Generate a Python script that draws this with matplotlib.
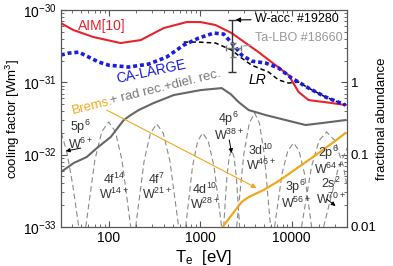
import numpy as np
import matplotlib
matplotlib.use('Agg')
from matplotlib import pyplot as plt

plt.rcParams['font.family'] = ['Liberation Sans', 'DejaVu Sans']
plt.rcParams['mathtext.fontset'] = 'custom'
plt.rcParams['mathtext.rm'] = 'Liberation Sans'
plt.rcParams['mathtext.it'] = 'Liberation Sans:italic'
plt.rcParams['mathtext.default'] = 'regular'

# cooling factor curves [W m^3] vs T_e [eV]
T_aim = [30, 41, 68, 135, 224, 399, 711, 1011, 1476, 2209, 4354, 6683, 9268, 11940, 15350, 27370, 38900]
L_aim = [6.6e-31, 5.3e-31, 4.24e-31, 3.5e-31, 3.85e-31, 5.64e-31, 6.83e-31, 6.83e-31, 6.21e-31,
         4.81e-31, 2.62e-31, 1.73e-31, 1.26e-31, 7.35e-32, 5.69e-32, 5.18e-32, 4.86e-32]

T_ca = [30, 36.6, 47, 60.4, 77.8, 100, 165, 273, 430, 661, 963, 1406, 1808, 2323, 2843, 3655,
        5200, 7211, 10000, 15350, 23550, 38900]
L_ca = [2.39e-31, 2.54e-31, 2.62e-31, 2.24e-31, 1.91e-31, 1.73e-31, 1.63e-31, 1.79e-31, 2.24e-31,
        3.28e-31, 4.1e-31, 4.81e-31, 4.66e-31, 3.28e-31, 2.39e-31, 1.97e-31, 1.85e-31, 1.58e-31,
        1.15e-31, 8.33e-32, 6.27e-32, 4.86e-32]

T_lr = [661, 963, 1476, 2209, 2843, 3655, 5600, 7211, 9268, 11940, 15350, 23550, 38900]
L_lr = [3.61e-31, 3.61e-31, 3.5e-31, 2.8e-31, 2.17e-31, 1.73e-31, 1.39e-31, 1.08e-31, 9.78e-32,
        1.01e-31, 8.33e-32, 6.27e-32, 4.86e-32]

T_rec = [30, 41.4, 57.5, 74, 105, 146, 174, 213, 310, 513, 1011, 1718, 2155, 2634, 3390, 5200,
         8600, 14220, 21280, 38900]
L_rec = [5.74e-33, 7.66e-33, 9.27e-33, 1.23e-32, 1.75e-32, 3.01e-32, 3.53e-32, 4.14e-32, 5.18e-32,
         6.67e-32, 7.82e-32, 8.33e-32, 6.89e-32, 5.34e-32, 4.14e-32, 3.53e-32, 3.01e-32, 2.57e-32,
         2.73e-32, 3.01e-32]

T_brems = [1762, 2209, 2843, 3390, 4943, 7211, 11940, 19740, 28780, 38900]
L_brems = [1e-33, 1.46e-33, 2.21e-33, 2.59e-33, 3.24e-33, 4.31e-33, 6.73e-33, 1.05e-32, 1.49e-32, 1.99e-32]

# experimental points
T_wacc, L_wacc, L_wacc_lo, L_wacc_hi = 2209, 3.18e-31, 1.39e-31, 7.27e-31
T_ta, T_ta_lo, T_ta_hi = 2280, 1901, 2775
L_ta, L_ta_lo, L_ta_hi = 2.98e-31, 2.24e-31, 3.5e-31

# fractional abundances of the ion stages
abund = [
    ('5p$^6$\nW$^{6+}$',    [22.1, 27.7, 34.8, 40.4, 47.0],
                            [0.415, 0.297, 0.109, 0.0381, 0.01]),
    ('4f$^{14}$\nW$^{14+}$', [56.1, 70.6, 84.2, 100, 118, 139.4, 174],
                            [0.01, 0.0849, 0.2095, 0.283, 0.2095, 0.0849, 0.01]),
    ('4f$^7$\nW$^{21+}$',    [197.2, 243.8, 285.7, 334.9, 395.4, 466.9, 582],
                            [0.01, 0.0815, 0.198, 0.266, 0.198, 0.0815, 0.01]),
    ('4d$^{10}$\nW$^{28+}$', [694.5, 824.6, 937.6, 1065, 1229, 1419, 1718],
                            [0.01, 0.0681, 0.1525, 0.1995, 0.1525, 0.0681, 0.01]),
    ('4p$^6$\nW$^{38+}$',    [1807, 1959, 2080, 2208, 2345, 2492, 2702],
                            [0.01, 0.0481, 0.0933, 0.116, 0.0933, 0.0481, 0.01]),
    ('3d$^{10}$\nW$^{46+}$', [2506, 3004, 3443, 3945, 4450, 5020, 5893],
                            [0.01, 0.1023, 0.2716, 0.3776, 0.2716, 0.1023, 0.01]),
    ('3p$^6$\nW$^{56+}$',    [6516, 7886, 9114, 10520, 12050, 13800, 16560],
                            [0.01, 0.0555, 0.114, 0.145, 0.114, 0.0555, 0.01]),
    ('2p$^6$\nW$^{64+}$',    [12850, 16560, 20000, 24150, 29800, 36830, 48830],
                            [0.01, 0.0693, 0.1567, 0.206, 0.1567, 0.0693, 0.01]),
    ('2s$^2$\nW$^{70+}$',    [22390, 32430, 42940, 56750],
                            [0.01, 0.0653, 0.1438, 0.187]),
]
# label positions (T, L) for the ion stages
lab_T = [49.4, 113.5, 335, 1120, 2047, 4580, 11070, 25350, 27000]
lab_L = [1.87e-32, 3.56e-33, 3.56e-33, 2.59e-33, 2.49e-32, 8.97e-33, 2.85e-33, 8.4e-33, 3.1e-33]

fig, ax = plt.subplots(figsize=(3.93, 2.66), dpi=100)
fig.subplots_adjust(left=0.155, right=0.882, bottom=0.147, top=0.962)
ax2 = ax.twinx()
ax.set_zorder(ax2.get_zorder() + 1)
ax.patch.set_visible(False)

for name, t, f in abund:
    ax2.plot(t, f, color='#8a8a8a', lw=0.8, ls=(0, (5, 3)))

ax.plot(T_rec, L_rec, color='#666666', lw=1.5)
ax.plot(T_brems, L_brems, color='#f2a81d', lw=1.6)
ax.plot(T_aim, L_aim, color='#e8232b', lw=1.5)
ax.plot(T_lr, L_lr, color='k', lw=1.1, ls=(0, (3, 2)))
ax.plot(T_ca, L_ca, color='#1c1ce0', lw=2.6, ls=(0, (1.1, 0.8)))

ax.errorbar([T_wacc], [L_wacc], yerr=[[L_wacc - L_wacc_lo], [L_wacc_hi - L_wacc]],
            fmt='none', ecolor='#333333', elinewidth=1.0, capsize=3)
ax.errorbar([T_ta], [L_ta], xerr=[[T_ta - T_ta_lo], [T_ta_hi - T_ta]],
            yerr=[[L_ta - L_ta_lo], [L_ta_hi - L_ta]],
            fmt='none', ecolor='#777777', elinewidth=1.0, capsize=2)

ax.set_xscale('log')
ax.set_yscale('log')
ax.set_xlim(30, 40000)
ax.set_ylim(1e-33, 1e-30)
ax2.set_yscale('log')
ax2.set_ylim(0.01, 10)

ax.set_xticks([100, 1000, 10000], ['100', '1000', '10000'])
ax.set_yticks([1e-33, 1e-32, 1e-31, 1e-30])
ax2.set_yticks([0.01, 0.1, 1], ['0.01', '0.1', '1'])

ax.tick_params(which='both', direction='in', top=True, labelsize=10, color='#555555')
ax.tick_params(which='major', length=4, pad=3)
ax.tick_params(which='minor', length=2)
ax2.tick_params(which='both', direction='in', labelsize=9.5, color='#555555')
ax2.tick_params(which='major', length=4, pad=3)
ax2.tick_params(which='minor', length=2)
for a in (ax, ax2):
    for s in a.spines.values():
        s.set_color('#555555')
        s.set_linewidth(0.8)

ax.set_xlabel('T$_e$  [eV]', fontsize=12, labelpad=2)
ax.set_ylabel('cooling factor [Wm$^3$]', fontsize=9.5)
ax.yaxis.set_label_coords(-0.135, 0.5)
ax2.set_ylabel('fractional abundance', fontsize=9.5)
ax2.yaxis.set_label_coords(1.103, 0.5)

# curve labels
ax.text(84, 6.0e-31, 'AIM[10]', color='#e8232b', fontsize=10, ha='center', va='center')
ax.text(288, 1.39e-31, 'CA-LARGE', color='#1c1ce0', fontsize=10, ha='center', va='center', rotation=12)
ax.text(40.4, 3.65e-32, 'Brems.', color='#f2a81d', fontsize=9.5, ha='left', va='baseline',
        rotation=14, rotation_mode='anchor')
ax.text(106.5, 4.97e-32, '+ rad rec.+diel. rec.', color='#777777', fontsize=9.5, ha='left',
        va='baseline', rotation=14, rotation_mode='anchor')
ax.annotate('', xy=(4140, 3.45e-33), xytext=(95, 4.14e-32),
            arrowprops=dict(arrowstyle='-|>', color='#f2a81d', lw=0.8, shrinkA=0, shrinkB=0,
                            mutation_scale=7))
ax.text(4250, 1.08e-31, 'LR', fontsize=10, style='italic', ha='center', va='center')

ax.annotate('W-acc. #19280', xy=(2350, 7.3e-31), xytext=(4000, 7.5e-31), fontsize=9,
            ha='left', va='center',
            arrowprops=dict(arrowstyle='-|>', color='k', lw=0.8, shrinkA=1, shrinkB=1,
                            mutation_scale=7))
ax.annotate('Ta-LBO #18660', xy=(2985, 3.18e-31), xytext=(4000, 4.1e-31), fontsize=9,
            color='#999999', ha='left', va='center',
            arrowprops=dict(arrowstyle='-', color='#999999', lw=0.8, shrinkA=1, shrinkB=0))

# ion stage labels
for (name, t, f), lt, ll in zip(abund, lab_T, lab_L):
    ax.text(lt, ll, name, fontsize=9, ha='center', va='center', color='#333333', linespacing=1.0)

ax.annotate('', xy=(33.9, 1.12e-32), xytext=(49.4, 1.23e-32),
            arrowprops=dict(arrowstyle='-|>', color='k', lw=0.7, shrinkA=0, shrinkB=0, mutation_scale=6))
ax.annotate('', xy=(2208, 1.05e-32), xytext=(2080, 1.6e-32),
            arrowprops=dict(arrowstyle='-|>', color='k', lw=0.7, shrinkA=0, shrinkB=0, mutation_scale=6))
ax.annotate('', xy=(30270, 1.95e-33), xytext=(24150, 2.43e-33),
            arrowprops=dict(arrowstyle='-|>', color='k', lw=0.7, shrinkA=0, shrinkB=0, mutation_scale=6))

plt.savefig('out.png', dpi=100)
plt.close(fig)
